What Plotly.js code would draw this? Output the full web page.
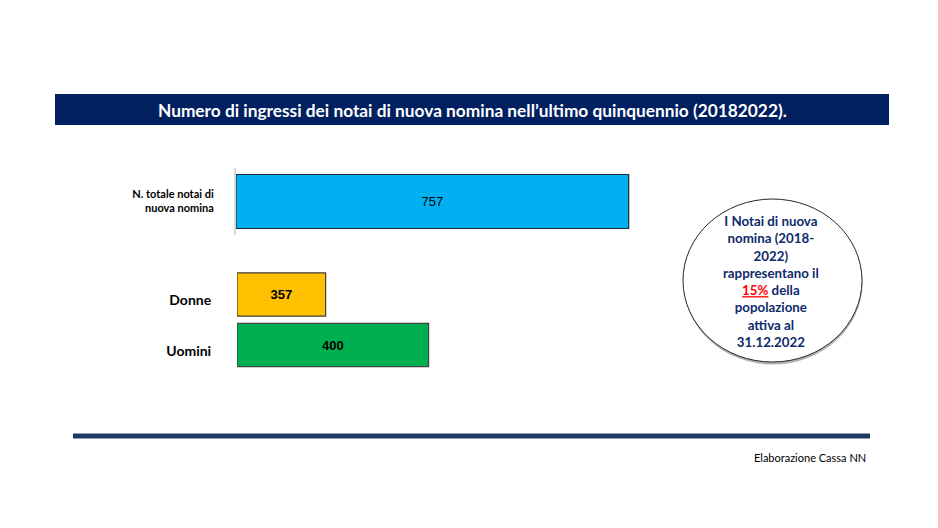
<!DOCTYPE html>
<html>
<head>
<meta charset="utf-8">
<script src="https://cdn.plot.ly/plotly-3.0.1.min.js"></script>
<style>
html,body{margin:0;padding:0;background:#fff;}
#chart{width:938px;height:528px;}
</style>
</head>
<body>
<div id="chart"></div>
<script>
// ---- data ----
const totalCategories = ["N. totale notai di<br>nuova nomina"];
const totalValues = [757];
const genderCategories = ["Donne", "Uomini"];
const genderValues = [357, 400];
const genderColors = ["#FFC000", "#00B050"];
const genderAxisMin = 320;   // minimum of the value axis of the lower chart
const genderAxisMax = 520;
const totalAxisMax = 800;
const chartTitle = "Numero di ingressi dei notai di nuova nomina nell\u2019ultimo quinquennio (20182022).";
const noteLines = ["I Notai di nuova", "nomina (2018-", "2022)", "rappresentano il",
  "<span style=\"color:#FF0000;text-decoration:underline\">15%</span> della",
  "popolazione", "attiva al", "31.12.2022"];
const sourceText = "Elaborazione Cassa NN";

const W = 938, H = 528;
const px = v => v / W;
const py = v => 1 - v / H;

const traces = [
  {
    type: "bar", orientation: "h",
    x: totalValues, y: totalCategories,
    xaxis: "x", yaxis: "y",
    width: 0.806,
    marker: {color: "#00B0F0", line: {color: "#1F2A36", width: 1.2}},
    text: totalValues.map(String),
    textposition: "inside", insidetextanchor: "middle",
    textfont: {family: "Liberation Sans, Arial, sans-serif", size: 13, color: "#000"},
    hoverinfo: "none"
  },
  {
    type: "bar", orientation: "h",
    x: genderValues.map(v => v - genderAxisMin), base: genderAxisMin, y: genderCategories,
    xaxis: "x2", yaxis: "y2",
    width: 0.86,
    marker: {color: genderColors, line: {color: "#404040", width: 1.2}},
    text: genderValues.map(v => "<b>" + v + "</b>"),
    textposition: "inside", insidetextanchor: "middle",
    textfont: {family: "Liberation Sans, Arial, sans-serif", size: 13, color: "#000"},
    hoverinfo: "none"
  }
];

const layout = {
  width: W, height: H,
  margin: {l: 0, r: 0, t: 0, b: 0},
  paper_bgcolor: "#fff", plot_bgcolor: "rgba(0,0,0,0)",
  showlegend: false,
  font: {family: "Lato, Open Sans, sans-serif", color: "#000"},
  xaxis: {domain: [px(236), px(651)], range: [0, totalAxisMax], visible: false, anchor: "y", fixedrange: true},
  yaxis: {domain: [py(235), py(168)], range: [-0.5, 0.5], type: "category", anchor: "x",
    showline: true, linecolor: "#D9D9D9", linewidth: 2, showgrid: false, zeroline: false,
    ticks: "outside", ticklen: 18, tickcolor: "rgba(0,0,0,0)",
    tickfont: {family: "Lato, sans-serif", size: 11, color: "#000", weight: "bold"}},
  xaxis2: {domain: [px(237), px(716)], range: [genderAxisMin, genderAxisMax], visible: false, anchor: "y2", fixedrange: true},
  yaxis2: {domain: [py(370.25), py(269.25)], range: [1.5, -0.5], type: "category", anchor: "x2",
    showline: false, showgrid: false, zeroline: false,
    ticks: "outside", ticklen: 22, tickcolor: "rgba(0,0,0,0)", ticklabelshift: -6,
    tickfont: {family: "Lato, sans-serif", size: 14, color: "#000", weight: "bold"}},
  shapes: [
    {type: "rect", xref: "paper", yref: "paper", x0: px(55), x1: px(889), y0: py(125), y1: py(94),
      fillcolor: "#002060", line: {width: 0}, layer: "below"},
    {type: "line", xref: "paper", yref: "paper", x0: px(73), x1: px(870), y0: py(436), y1: py(436),
      line: {color: "#1F3864", width: 5}},
    {type: "circle", xref: "paper", yref: "paper", x0: px(683.5), x1: px(862.5), y0: py(364.5), y1: py(201),
      fillcolor: "rgba(0,0,0,0.3)", line: {width: 0}},
    {type: "circle", xref: "paper", yref: "paper", x0: px(683), x1: px(862), y0: py(362), y1: py(199),
      fillcolor: "#fff", line: {color: "#262626", width: 1}}
  ],
  annotations: [
    {xref: "paper", yref: "paper", x: px(472), y: py(110), xanchor: "center", yanchor: "middle",
      text: "<b>" + chartTitle + "</b>", showarrow: false,
      font: {family: "Lato, sans-serif", size: 17.3, color: "#fff"}},
    {xref: "paper", yref: "paper", x: px(771), y: py(281), xanchor: "center", yanchor: "middle",
      text: "<b>" + noteLines.join("<br>") + "</b>", showarrow: false, align: "center",
      font: {family: "Lato, sans-serif", size: 13.3, color: "#0D2A6B"}},
    {xref: "paper", yref: "paper", x: px(868), y: py(457), xanchor: "right", yanchor: "middle",
      text: sourceText, showarrow: false,
      font: {family: "Lato, sans-serif", size: 11, color: "#000"}}
  ]
};

Plotly.newPlot("chart", traces, layout, {displayModeBar: false, staticPlot: true});
</script>
</body>
</html>
